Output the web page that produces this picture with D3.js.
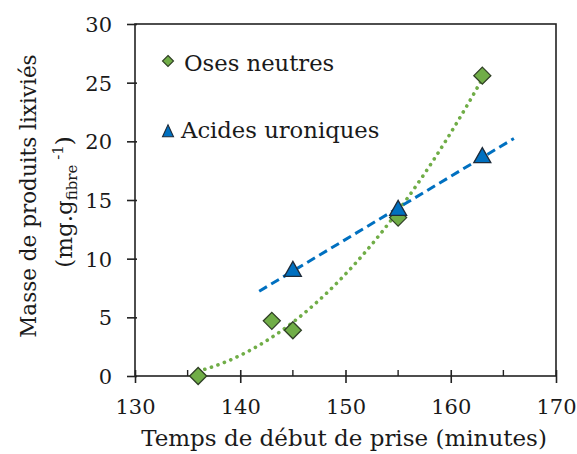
<!DOCTYPE html>
<html><head><meta charset="utf-8">
<script src="https://cdn.jsdelivr.net/npm/d3@7"></script>
<style>body{margin:0;background:#fff}svg{display:block}text{font-family:"DejaVu Serif",serif;fill:#1a1a1a}</style>
</head><body>
<svg id="c" width="577" height="454"></svg>
<script>
const osesX = [136, 143, 145, 155, 163];
const osesY = [0, 4.7, 3.9, 13.5, 25.6];
const acidesX = [145, 155, 163];
const acidesY = [9.0, 14.2, 18.7];
const xTicks = [130, 140, 150, 160, 170];
const xMinorTicks = [135, 145, 155, 165];
const yTicks = [0, 5, 10, 15, 20, 25, 30];
const seriesNames = ["Oses neutres", "Acides uroniques"];

const svg = d3.select("#c");
const x = d3.scaleLinear().domain([130, 170]).range([135, 556]);
const y = d3.scaleLinear().domain([0, 30]).range([376, 24]);
const green = "#70AD47", blue = "#0070C0";

// frame
svg.append("rect").attr("x", 135).attr("y", 24).attr("width", 421).attr("height", 352)
  .attr("fill", "none").attr("stroke", "#222").attr("stroke-width", 1.6);

// x axis
const gx = svg.append("g").attr("transform", "translate(0,376)");
gx.call(d3.axisBottom(x).tickValues(xTicks).tickSize(0).tickPadding(0).tickFormat(d3.format("d")));
gx.select(".domain").remove();
gx.selectAll(".tick text").attr("y", 38).attr("dy", null).style("font-size", "21px").style("font-family", "DejaVu Serif").attr("fill", "#1a1a1a");
gx.selectAll(".tick").append("line").attr("y1", -6).attr("y2", 7).attr("stroke", "#222").attr("stroke-width", 1.6);
svg.append("g").selectAll("line").data(xMinorTicks).join("line")
  .attr("x1", d => x(d)).attr("x2", d => x(d)).attr("y1", 370).attr("y2", 376)
  .attr("stroke", "#222").attr("stroke-width", 1.4);

// y axis
const gy = svg.append("g").attr("transform", "translate(135,0)");
gy.call(d3.axisLeft(y).tickValues(yTicks).tickSize(0).tickPadding(0));
gy.select(".domain").remove();
gy.selectAll(".tick text").attr("x", -23).attr("dy", "0.36em").style("font-size", "21px").style("font-family", "DejaVu Serif").attr("fill", "#1a1a1a");
gy.selectAll(".tick").append("line").attr("x1", -8).attr("x2", 2).attr("stroke", "#222").attr("stroke-width", 1.6);

// trendlines
function linFit(xs, ys) {
  const n = xs.length, mx = d3.mean(xs), my = d3.mean(ys);
  let sxy = 0, sxx = 0;
  for (let i = 0; i < n; i++) { sxy += (xs[i]-mx)*(ys[i]-my); sxx += (xs[i]-mx)**2; }
  const b = sxy / sxx; return t => my + b * (t - mx);
}
function quadFit(xs, ys) {
  const m = d3.mean(xs);
  const u = xs.map(v => v - m);
  const S = k => d3.sum(u, v => v ** k);
  const T = k => d3.sum(u, (v, i) => v ** k * ys[i]);
  const A = [[xs.length, S(1), S(2)], [S(1), S(2), S(3)], [S(2), S(3), S(4)]];
  const B = [T(0), T(1), T(2)];
  for (let i = 0; i < 3; i++) {
    for (let j = i + 1; j < 3; j++) {
      const f = A[j][i] / A[i][i];
      for (let k = i; k < 3; k++) A[j][k] -= f * A[i][k];
      B[j] -= f * B[i];
    }
  }
  const c = [0, 0, 0];
  for (let i = 2; i >= 0; i--) {
    let s = B[i];
    for (let k = i + 1; k < 3; k++) s -= A[i][k] * c[k];
    c[i] = s / A[i][i];
  }
  return t => c[0] + c[1] * (t - m) + c[2] * (t - m) ** 2;
}
const qf = quadFit(osesX, osesY);
const qx = d3.range(d3.min(osesX), d3.max(osesX) + 0.001, 0.25);
svg.append("path").datum(qx)
  .attr("d", d3.line().x(d => x(d)).y(d => y(qf(d))))
  .attr("fill", "none").attr("stroke", green).attr("stroke-width", 3.6)
  .attr("stroke-linecap", "round").attr("stroke-dasharray", "0.1 6.8");
const lf = linFit(acidesX, acidesY);
const lx = [d3.min(acidesX) - 3.2, d3.max(acidesX) + 3];
svg.append("path").datum(lx)
  .attr("d", d3.line().x(d => x(d)).y(d => y(lf(d))))
  .attr("fill", "none").attr("stroke", blue).attr("stroke-width", 3)
  .attr("stroke-dasharray", "9 5");

// markers
const diamond = s => `M0,${-s}L${s},0L0,${s}L${-s},0Z`;
const tri = (w, h) => `M0,${-h*0.6}L${w/2},${h*0.4}L${-w/2},${h*0.4}Z`;
svg.append("g").selectAll("path").data(osesX.map((v, i) => [v, osesY[i]])).join("path")
  .attr("transform", d => `translate(${x(d[0])},${y(d[1])})`)
  .attr("d", diamond(8.5)).attr("fill", green).attr("stroke", "#2f3f25").attr("stroke-width", 1.3);
svg.append("g").selectAll("path").data(acidesX.map((v, i) => [v, acidesY[i]])).join("path")
  .attr("transform", d => `translate(${x(d[0])},${y(d[1])})`)
  .attr("d", tri(17, 15)).attr("fill", blue).attr("stroke", "#1e2b3a").attr("stroke-width", 1.3);

// legend
svg.append("path").attr("transform", "translate(168,61)").attr("d", diamond(5.5))
  .attr("fill", green).attr("stroke", "#2f3f25").attr("stroke-width", 1.1);
svg.append("text").attr("x", 184).attr("y", 71).style("font-size", "22.7px").text(seriesNames[0]);
svg.append("path").attr("transform", "translate(168,132)").attr("d", tri(11, 12))
  .attr("fill", blue).attr("stroke", "#1e2b3a").attr("stroke-width", 1.1);
svg.append("text").attr("x", 181).attr("y", 138).style("font-size", "22.7px").text(seriesNames[1]);

// axis titles
svg.append("text").attr("x", 344).attr("y", 446).attr("text-anchor", "middle")
  .style("font-size", "23px").text("Temps de début de prise (minutes)");
svg.append("text").attr("transform", "translate(36,196) rotate(-90)").attr("text-anchor", "middle")
  .style("font-size", "21.5px").text("Masse de produits lixiviés");
const t2 = svg.append("text").attr("transform", "translate(72,202) rotate(-90)").attr("text-anchor", "middle")
  .style("font-size", "23px");
t2.append("tspan").text("(mg.g");
t2.append("tspan").attr("dy", 5).style("font-size", "15px").text("fibre");
t2.append("tspan").attr("dy", -14).style("font-size", "15px").text(" -1");
t2.append("tspan").attr("dy", 9).text(")");
</script>
</body></html>
